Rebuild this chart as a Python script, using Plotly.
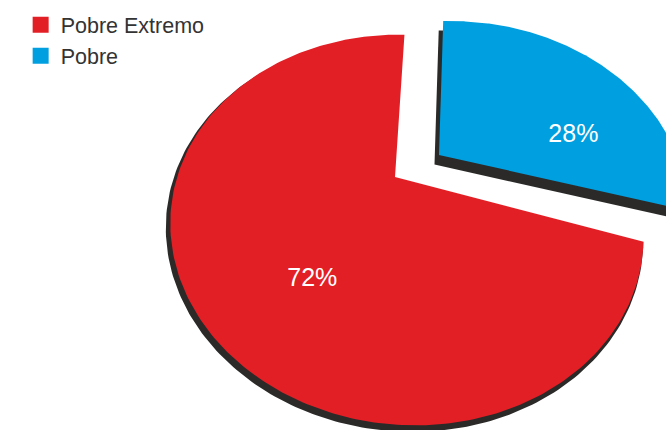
import numpy as np
import plotly.graph_objects as go

# ---------------- data ----------------
categories = ["Pobre Extremo", "Pobre"]
values = [72, 28]
colors = ["#E31F26", "#009FDF"]

# ---------------- style / geometry ----------------
W, H = 666, 430
APEX = (395.0, 177.0)        # pie apex (pixels)
CENTER = (407.0, 230.0)      # centre of the (perspective) ellipse
RX, RY = 237.0, 195.0
START = -14.6                # angle where first slice starts, going clockwise
# per-slice perspective tweaks (explode offsets of apex / ellipse centre, tilt, angle shift)
SLICE_STYLE = [
    dict(apex_off=(0.0, 0.0), center_off=(0.0, 0.0), rot=5.0, ang_off=0.0, rx=RX, ry=RY),
    dict(apex_off=(44.0, -22.0), center_off=(43.0, -14.0), rot=0.0, ang_off=2.0, rx=239.0, ry=195.0),
]
SHADOWS = [dict(dx=-2.5, dy=4.5, grow=2.0), dict(dx=-4.5, dy=9.5, grow=0.0)]
SHADOW_COLOR = "#2B2A29"
LABEL_STYLE = [dict(dang=15.5, frac=0.545), dict(dang=-29.7, frac=0.607)]
FONT = "Liberation Sans, Arial, sans-serif"


def ray_hit(apex, center, rx, ry, rot, ang_deg):
    """distance from apex to ellipse boundary along direction ang (math angle, screen y down)."""
    psi = np.radians(rot)
    c, s = np.cos(psi), np.sin(psi)
    px, py = apex[0] - center[0], apex[1] - center[1]
    dx, dy = np.cos(np.radians(ang_deg)), -np.sin(np.radians(ang_deg))
    u, v = px * c + py * s, -px * s + py * c
    du, dv = dx * c + dy * s, -dx * s + dy * c
    A = du * du / rx ** 2 + dv * dv / ry ** 2
    B = 2 * (u * du / rx ** 2 + v * dv / ry ** 2)
    C = u * u / rx ** 2 + v * v / ry ** 2 - 1
    t = (-B + np.sqrt(B * B - 4 * A * C)) / (2 * A)
    return t, dx, dy


def slice_frame(st, extra=(0.0, 0.0)):
    apex = (APEX[0] + st["apex_off"][0] + extra[0], APEX[1] + st["apex_off"][1] + extra[1])
    center = (CENTER[0] + st["center_off"][0] + extra[0], CENTER[1] + st["center_off"][1] + extra[1])
    return apex, center


def wedge(a0, a1, st, extra=(0.0, 0.0), grow=0.0, n=240):
    apex, center = slice_frame(st, extra)
    xs, ys = [apex[0]], [apex[1]]
    for a in np.linspace(a0, a1, n):
        t, dx, dy = ray_hit(apex, center, st["rx"] + grow, st["ry"] + grow, st["rot"], a + st["ang_off"])
        xs.append(apex[0] + t * dx)
        ys.append(apex[1] + t * dy)
    xs.append(apex[0])
    ys.append(apex[1])
    return xs, ys


total = float(sum(values))
fig = go.Figure()

angles = []
a = START
for v in values:
    span = 360.0 * v / total
    angles.append((a, a - span))
    a -= span

# shadows and slices
for i, (a0, a1) in enumerate(angles):
    st = SLICE_STYLE[i]
    sh = SHADOWS[i]
    sx, sy = wedge(a0, a1, st, (sh["dx"], sh["dy"]), sh["grow"])
    fig.add_trace(go.Scatter(x=sx, y=sy, mode="lines", fill="toself",
                             fillcolor=SHADOW_COLOR, line=dict(width=0),
                             hoverinfo="skip", showlegend=False))
    xs, ys = wedge(a0, a1, st)
    fig.add_trace(go.Scatter(x=xs, y=ys, mode="lines", fill="toself",
                             fillcolor=colors[i], line=dict(width=0),
                             name=categories[i], hoverinfo="name",
                             showlegend=False))

# percentage labels
lx, ly, lt = [], [], []
for i, (a0, a1) in enumerate(angles):
    st = SLICE_STYLE[i]
    apex, center = slice_frame(st)
    mid = (a0 + a1) / 2.0 + st["ang_off"] + LABEL_STYLE[i]["dang"]
    t, dx, dy = ray_hit(apex, center, st["rx"], st["ry"], st["rot"], mid)
    r = t * LABEL_STYLE[i]["frac"]
    lx.append(apex[0] + r * dx)
    ly.append(apex[1] + r * dy)
    lt.append(f"{values[i] / total * 100:.0f}%")
fig.add_trace(go.Scatter(x=lx, y=ly, mode="text", text=lt,
                         textfont=dict(family=FONT, size=25, color="white"),
                         hoverinfo="skip", showlegend=False))

# legend entries
for i, cat in enumerate(categories):
    fig.add_trace(go.Scatter(x=[None], y=[None], mode="markers", name=cat,
                             legendgroup=cat,
                             marker=dict(symbol="square", size=16, color=colors[i])))

fig.update_layout(
    width=W, height=H,
    margin=dict(l=0, r=0, t=0, b=0),
    paper_bgcolor="white", plot_bgcolor="white",
    xaxis=dict(range=[0, W], visible=False, fixedrange=True),
    yaxis=dict(range=[H, 0], visible=False, fixedrange=True),
    legend=dict(x=0.031, y=0.99, xanchor="left", yanchor="top",
                font=dict(family=FONT, size=21.5, color="#333333"),
                bgcolor="rgba(0,0,0,0)", tracegroupgap=6,
                traceorder="normal"),
    showlegend=True,
)

fig.write_html(
    "out.html",
    config={"displayModeBar": False},
    post_script="document.body.style.margin='0';document.body.style.overflow='hidden';",
)
